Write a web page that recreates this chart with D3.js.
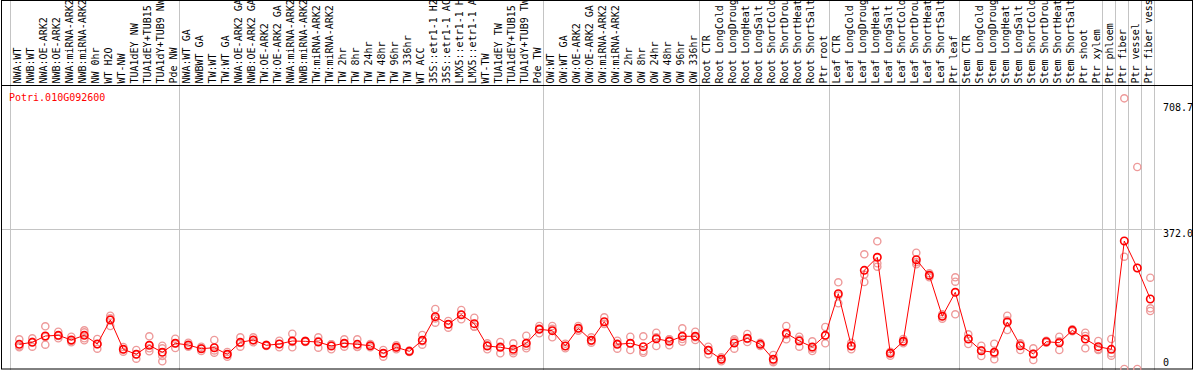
<!DOCTYPE html>
<html><head><meta charset="utf-8">
<script src="https://cdn.jsdelivr.net/npm/d3@7"></script>
<style>
body{margin:0;background:#fff}
svg{display:block}
text{font-family:"DejaVu Sans Mono",monospace;font-size:10px}
</style>
</head><body>
<svg id="chart" width="1194" height="370"></svg>
<script>
const geneId = "Potri.010G092600";

const categories = [
  "NWA:WT","NWB:WT","NWA:OE-ARK2","NWB:OE-ARK2","NWA:miRNA-ARK2","NWB:miRNA-ARK2","NW 0hr","WT H2O","WT-NW","TUA1dEY NW","TUA1dEY+TUB15 NW","TUA1dY+TUB9 NW","Pde NW",
  "NWA:WT GA","NWBWT GA","TW:WT","TW:WT GA","NWA:OE-ARK2 GA","NWB:OE-ARK2 GA","TW:OE-ARK2","TW:OE-ARK2 GA","NWA:miRNA-ARK2","NWB:miRNA-ARK2","TW:miRNA-ARK2","TW:miRNA-ARK2",
  "TW 2hr","TW 8hr","TW 24hr","TW 48hr","TW 96hr","TW 336hr","WT ACC","35S::etr1-1 H2O","35S::etr1-1 ACC","LMX5::etr1-1 H2O","LMX5::etr1-1 ACC","WT-TW","TUA1dEY TW","TUA1dEY+TUB15 TW","TUA1dY+TUB9 TW","Pde TW",
  "OW:WT","OW:WT GA","OW:OE-ARK2","OW:OE-ARK2 GA","OW:miRNA-ARK2","OW:miRNA-ARK2","OW 2hr","OW 8hr","OW 24hr","OW 48hr","OW 96hr","OW 336hr",
  "Root CTR","Root LongCold","Root LongDrought","Root LongHeat","Root LongSalt","Root ShortCold","Root ShortDrought","Root ShortHeat","Root ShortSalt","Ptr root",
  "Leaf CTR","Leaf LongCold","Leaf LongDrought","Leaf LongHeat","Leaf LongSalt","Leaf ShortCold","Leaf ShortDrought","Leaf ShortHeat","Leaf ShortSalt","Ptr leaf",
  "Stem CTR","Stem LongCold","Stem LongDrought","Stem LongHeat","Stem LongSalt","Stem ShortCold","Stem ShortDrought","Stem ShortHeat","Stem ShortSalt","Ptr shoot","Ptr xylem",
  "Ptr phloem","Ptr fiber","Ptr vessel","Ptr fiber vessel"
];

// group boundaries (index of first category of each group, plus end)
const groupBounds = [0,13,41,53,63,73,84,85,86,87,88];

const means = [
  65.6,70.9,87.7,89.5,77.1,89.5,66.4,130.2,52.3,39.1,63.0,44.4,68.3,
  63.8,53.9,56.6,39.1,70.9,77.1,63.0,66.4,74.4,73.6,71.7,61.1,68.3,65.6,61.9,41.7,57.7,47.0,76.3,139.0,118.8,144.3,120.4,61.1,57.7,52.3,68.3,105.5,
  101.8,61.1,108.1,76.3,125.7,65.6,68.3,59.3,80.5,73.6,86.9,86.9,
  49.7,25.8,69.1,81.6,65.6,25.8,94.9,74.4,58.5,89.5,
  200.1,61.1,262.2,296.8,41.7,73.6,290.4,249.0,140.0,203.8,
  79.7,48.6,44.4,124.9,61.9,39.9,72.5,69.9,102.8,79.7,59.3,
  52.3,340.1,268.4,186.0
];

const replicates = [
  [78.9,57.7,60.3],[81.6,59.3,72.0],[113.5,64.6,85.0],[99.1,81.6,87.9],[85.8,70.9,74.4],[102.8,97.5,76.3,81.6],[79.7,53.9,65.6],[141.6,114.3,134.7],[58.5,52.3,46.0],[50.5,27.4,39.3],[86.9,47.0,55.0],[61.9,55.0,34.5,20.5],[80.5,55.8,68.5],
  [69.9,59.3,62.2],[59.3,47.8,54.7],[77.1,43.3,49.4],[39.1,32.7,45.2],[84.2,59.3,69.1],[84.2,70.9,76.0],[64.6,61.1,63.0],[75.2,57.7,66.4],[93.8,57.7,71.7],[75.2,71.7,73.6],[84.2,56.6,74.4],[65.6,52.3,65.4],[78.9,59.3,66.4],[78.9,59.3,58.5],[66.4,61.1,57.7],[41.7,32.7,50.5],[57.7,52.3,63.0],[49.0,45.0,47.0],[90.3,64.6,73.9],[159.4,123.0,134.4],[127.5,109.7,119.0],[156.8,132.1,144.0],[136.3,112.4,112.4],[68.3,52.3,62.7],[71.7,41.7,59.5],[68.3,41.7,47.0],[88.5,55.0,61.1],[114.3,94.9,107.3],
  [114.3,84.2,106.8],[61.1,55.0,67.2],[114.3,108.1,102.0],[84.2,69.9,74.4],[137.4,119.6,120.1],[75.2,53.9,67.8],[85.8,50.5,68.5],[86.9,47.8,43.0],[96.4,61.1,84.0],[78.9,63.0,78.9],[108.1,72.5,79.7],[99.1,77.1,84.5],
  [59.3,39.1,50.5],[31.1,25.8,20.5],[78.9,53.9,74.4],[93.0,71.7,79.7],[69.9,65.6,61.1],[37.2,22.1,18.1],[114.3,78.9,91.1],[85.8,59.3,78.1],[73.6,47.8,53.9],[111.6,68.3,88.5],
  [230.4,174.6,195.3],[69.9,52.3,61.1],[304.8,231.2,250.8],[339.3,280.8,271.8],[46.0,35.3,43.6],[79.7,68.3,72.8],[309.0,278.2,284.0],[254.3,243.6,249.0],[145.3,133.6,140.8],[243.6,232.0,145.3],
  [92.2,66.4,80.5],[61.9,34.5,49.4],[67.2,25.8,39.9],[141.6,103.6,129.4],[68.3,50.5,67.0],[55.0,23.9,40.7],[75.2,72.5,69.9],[85.8,50.5,73.3],[105.5,102.8,100.2],[96.4,55.0,87.7],[74.4,50.5,52.9],
  [79.7,35.3,42.0],[719.2,298.4,0],[536.7,268.4,0],[242.6,161.3,154.1]
];

const yTickValues = [0, 372.0, 708.7];
const yGridValues = [372.0];

const W = 1194, H = 370;
const svg = d3.select("#chart");

const x = d3.scaleBand().domain(d3.range(categories.length)).range([11.2, 1155.2]).paddingInner(0).paddingOuter(0);
const ptOff = 8.1;
const px = i => x(i) + ptOff;
const y = d3.scaleLinear().domain([0, 372]).range([369, 229]);

const labelBottom = 85.5;

// vertical group gridlines
svg.append("g").selectAll("line").data(groupBounds).join("line")
  .attr("x1", d => Math.round(x(d) !== undefined ? x(d) : x.range()[1]) - 0.5)
  .attr("x2", d => Math.round(x(d) !== undefined ? x(d) : x.range()[1]) - 0.5)
  .attr("y1", 0).attr("y2", H)
  .attr("stroke", "#c4c4c4").attr("stroke-width", 1);

// horizontal gridline(s)
svg.append("g").selectAll("line").data(yGridValues).join("line")
  .attr("x1", 1.5).attr("x2", 1162)
  .attr("y1", d => Math.round(y(d)) + 0.5).attr("y2", d => Math.round(y(d)) + 0.5)
  .attr("stroke", "#c4c4c4").attr("stroke-width", 1);

// frame
svg.append("rect").attr("x", 1.5).attr("y", 0.5).attr("width", 1191).attr("height", 368.5)
  .attr("fill", "none").attr("stroke", "#000").attr("stroke-width", 1);
svg.append("line").attr("x1", 1.5).attr("x2", 1192.5).attr("y1", labelBottom).attr("y2", labelBottom)
  .attr("stroke", "#000").attr("stroke-width", 1);

// column labels
svg.append("g").selectAll("text").data(categories).join("text")
  .attr("transform", (d, i) => `translate(${px(i) + 1.6},${labelBottom - 2}) rotate(-90)`)
  .attr("fill", "#000")
  .text(d => d);

// gene title
svg.append("text").attr("x", 9).attr("y", 101).attr("fill", "#ff0000").text(geneId);

// replicate points
const repData = [];
replicates.forEach((arr, i) => arr.forEach(v => repData.push({i, v})));
svg.append("g").selectAll("circle").data(repData).join("circle")
  .attr("cx", d => px(d.i)).attr("cy", d => y(d.v)).attr("r", 3.6)
  .attr("fill", "none").attr("stroke", "#ee9a9a").attr("stroke-width", 1.4);

// mean line
const line = d3.line().x((d, i) => px(i)).y(d => y(d));
svg.append("path").datum(means).attr("d", line)
  .attr("fill", "none").attr("stroke", "#ff0000").attr("stroke-width", 1);

// mean points
svg.append("g").selectAll("circle").data(means).join("circle")
  .attr("cx", (d, i) => px(i)).attr("cy", d => y(d)).attr("r", 3.7)
  .attr("fill", "none").attr("stroke", "#ff0000").attr("stroke-width", 1.6);

// right axis labels
const axis = d3.axisRight(y).tickValues(yTickValues).tickSize(0).tickPadding(0)
  .tickFormat(d => d === 0 ? "0" : d3.format(".1f")(d));
const ag = svg.append("g").attr("transform", "translate(1163,0)").call(axis);
ag.select(".domain").remove();
ag.selectAll("text").attr("fill", "#000").attr("font-family", '"DejaVu Sans Mono",monospace').attr("font-size", 10)
  .attr("dy", d => d === 0 ? "-0.35em" : "0.78em");
</script>
</body></html>
